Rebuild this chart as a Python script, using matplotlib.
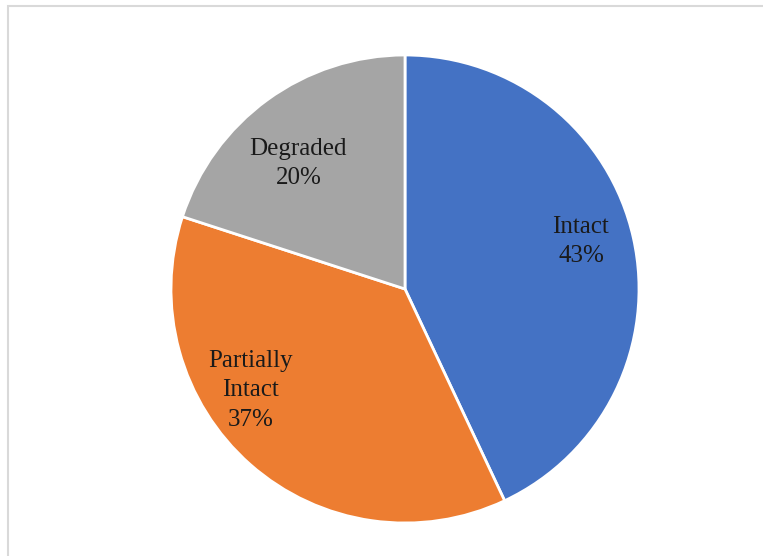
import matplotlib.pyplot as plt
from matplotlib.patches import Rectangle

plt.rcParams['font.family'] = ['Liberation Serif', 'DejaVu Serif']

# condition shares, clockwise from 12 o'clock
labels = ["Intact", "Partially\nIntact", "Degraded"]
shares = [43, 37, 20]
colors = ["#4472C4", "#ED7D31", "#A5A5A5"]

# small nudges for the in-slice labels (axes data units)
label_nudge = [(0.02, 0.04), (-0.165, 0.13), (-0.015, -0.07)]

W, H = 763, 556
fig = plt.figure(figsize=(W / 100, H / 100), dpi=100)

# thin grey frame, cut off at the right and bottom
fig.patches.append(Rectangle((7.5 / W, -0.05), 1.1, 1 - 5.5 / H + 0.05,
                             transform=fig.transFigure, fill=False,
                             edgecolor="#d9d9d9", linewidth=1.5))

cx, cy, r = 405, 289, 234
ax = fig.add_axes([(cx - r) / W, (H - cy - r) / H, 2 * r / W, 2 * r / H])

wedges, texts, autotexts = ax.pie(
    shares, colors=colors, startangle=90, counterclock=False,
    radius=1, pctdistance=0.75,
    autopct="%1.0f%%",
    wedgeprops=dict(edgecolor="white", linewidth=2),
    textprops=dict(fontsize=18, color="#1a1a1a"),
)

for t, name, (dx, dy) in zip(autotexts, labels, label_nudge):
    t.set_text(f"{name}\n{t.get_text()}")
    t.set_linespacing(1.45)
    x, y = t.get_position()
    t.set_position((x + dx, y + dy))

ax.set_xlim(-1, 1)
ax.set_ylim(-1, 1)
ax.set_aspect("equal")
ax.axis("off")

fig.savefig("out.png", dpi=100)
